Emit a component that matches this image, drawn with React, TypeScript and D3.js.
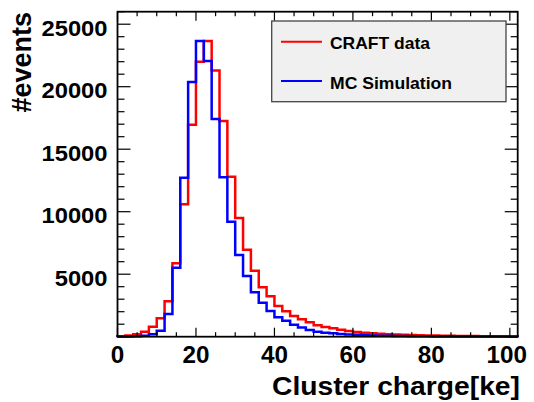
import React from "react";
import * as d3 from "d3";

// Bin edges: 0..102 in steps of 2 (51 bins)
const binWidth = 2;
const craftData = [
  30, 100, 190, 400, 800, 1470, 2830, 5870, 10600, 16950,
  22000, 23650, 21300, 17250, 12800, 9500, 6950, 5280, 3950, 3230,
  2460, 2030, 1650, 1400, 1150, 910, 780, 670, 560, 460,
  380, 320, 270, 230, 200, 170, 150, 130, 115, 100,
  90, 80, 70, 62, 55, 50, 45, 40, 36, 32, 30,
];
const mcSimulation = [
  10, 15, 30, 80, 190, 480, 1820, 5520, 12720, 20380,
  23650, 22050, 17420, 12750, 9200, 6540, 4860, 3550, 2720, 2060,
  1550, 1280, 950, 730, 530, 400, 320, 270, 220, 180,
  150, 120, 100, 85, 70, 60, 50, 42, 36, 30,
  26, 22, 19, 16, 14, 12, 10, 9, 8, 7, 6,
];
const xTickLabels = [0, 20, 40, 60, 80, 100];
const yTickLabels = [5000, 10000, 15000, 20000, 25000];
const seriesNames = ["CRAFT data", "MC Simulation"];

const W = 534;
const H = 402;
const left = 117.5;
const right = 517.7;
const top = 11.7;
const bottom = 336.7;

const x = d3.scaleLinear().domain([0, 102]).range([left, right]);
const y = d3.scaleLinear().domain([0, 26000]).range([bottom, top]);

function stepPath(vals: number[]) {
  const pts: [number, number][] = [];
  pts.push([x(0), y(0)]);
  vals.forEach((v, i) => {
    pts.push([x(i * binWidth), y(v)]);
    pts.push([x((i + 1) * binWidth), y(v)]);
  });
  pts.push([x(vals.length * binWidth), y(0)]);
  return d3.line()(pts) as string;
}

const FONT = "'Liberation Sans', Arial, Helvetica, sans-serif";

export default function App() {
  const xMinor = d3.range(0, 102.01, 5);
  const yMinor = d3.range(0, 26001, 1000);
  return (
    <svg
      width={W}
      height={H}
      style={{ position: "absolute", left: 0, top: 0, background: "#fff" }}
      fontFamily={FONT}
    >
      <rect x={0} y={0} width={W} height={H} fill="#fff" />
      {/* histograms */}
      <path d={stepPath(craftData)} fill="none" stroke="#ff0000" strokeWidth={2.5} strokeLinejoin="miter" />
      <path d={stepPath(mcSimulation)} fill="none" stroke="#0000ff" strokeWidth={2.5} strokeLinejoin="miter" />

      {/* frame */}
      <rect x={left} y={top} width={right - left} height={bottom - top} fill="none" stroke="#000" strokeWidth={1.8} />

      {/* x ticks bottom and top */}
      {xMinor.map((v) => {
        const major = v % 20 === 0;
        const len = major ? 9 : 4.5;
        return (
          <g key={"xt" + v} stroke="#000" strokeWidth={1.2}>
            <line x1={x(v)} x2={x(v)} y1={bottom} y2={bottom - len} />
            <line x1={x(v)} x2={x(v)} y1={top} y2={top + len} />
          </g>
        );
      })}
      {/* y ticks left and right */}
      {yMinor.map((v) => {
        const major = v % 5000 === 0;
        const len = major ? 13 : 7;
        return (
          <g key={"yt" + v} stroke="#000" strokeWidth={1.2}>
            <line x1={left} x2={left + len} y1={y(v)} y2={y(v)} />
            <line x1={right} x2={right - len} y1={y(v)} y2={y(v)} />
          </g>
        );
      })}

      {/* x tick labels */}
      {xTickLabels.map((v) => {
        const s = String(v);
        const w = s.length * 13.5;
        const cx = Math.min(x(v), 527 - w / 2);
        return (
          <text
            key={"xl" + v}
            x={cx - w / 2}
            y={363.3}
            fontSize={23.5}
            fontWeight="bold"
            fill="#000"
            textLength={w}
            lengthAdjust="spacingAndGlyphs"
          >
            {s}
          </text>
        );
      })}
      {/* y tick labels */}
      {yTickLabels.map((v) => {
        const s = String(v);
        const w = s.length * 13.2;
        return (
          <text
            key={"yl" + v}
            x={107.5 - w}
            y={y(v) + 11.5}
            fontSize={22}
            fontWeight="bold"
            fill="#000"
            textLength={w}
            lengthAdjust="spacingAndGlyphs"
          >
            {s}
          </text>
        );
      })}

      {/* axis titles */}
      <text x={272} y={395} fontSize={25} fontWeight="bold" fill="#000" textLength={248} lengthAdjust="spacingAndGlyphs">
        Cluster charge[ke]
      </text>
      <text
        transform="translate(31,12) rotate(-90)"
        textAnchor="end"
        fontSize={27}
        fontWeight="bold"
        fill="#000"
      >
        #events
      </text>

      {/* legend */}
      <rect x={271.7} y={21} width={234.3} height={80.7} fill="#f0f0f0" stroke="#444" strokeWidth={1.3} />
      <line x1={281} x2={322} y1={41.7} y2={41.7} stroke="#ff0000" strokeWidth={2} />
      <text x={330} y={49} fontSize={16.5} fontWeight="bold" fill="#000" textLength={100} lengthAdjust="spacingAndGlyphs">
        {seriesNames[0]}
      </text>
      <line x1={281} x2={322} y1={81} y2={81} stroke="#0000ff" strokeWidth={2} />
      <text x={330} y={88.5} fontSize={16.5} fontWeight="bold" fill="#000" textLength={122} lengthAdjust="spacingAndGlyphs">
        {seriesNames[1]}
      </text>
    </svg>
  );
}
